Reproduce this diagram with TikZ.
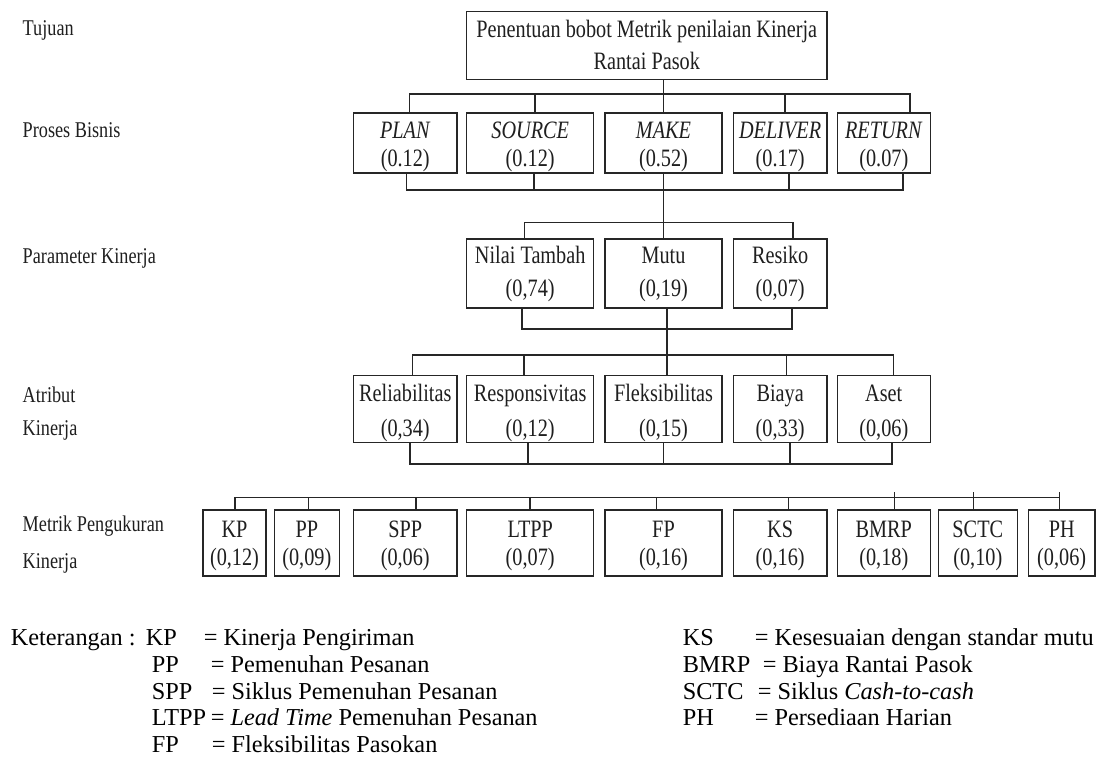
\documentclass[tikz,border=0pt]{standalone}
\usepackage{fontspec}
\setmainfont{Liberation Serif}
\newfontfamily\narrowserif[FakeStretch=0.81]{Liberation Serif}

\begin{document}
\begin{tikzpicture}[x=1pt,y=-1pt,
  line width=1.5pt, line join=miter, color=black!85,
  % the text box is measured from the baseline of its last line
  box/.style={draw=black!85, rectangle, inner sep=0pt, align=center, text=black!88,
    text depth=6pt},
  goalbox/.style={box, text height=53.6pt, font=\narrowserif\fontsize{25}{32}\selectfont},
  lvlone/.style={box, minimum height=60pt, text height=53.4pt,
    font=\narrowserif\fontsize{25}{28.4}\selectfont},
  lvltwo/.style={box, minimum height=69pt, text height=53pt,
    font=\narrowserif\fontsize{25}{33}\selectfont},
  lvlthree/.style={box, minimum height=66pt, text height=61.4pt,
    font=\narrowserif\fontsize{25}{35}\selectfont},
  lvlfour/.style={box, minimum height=66pt, text height=50pt,
    font=\narrowserif\fontsize{25}{27.7}\selectfont},
  rowlabel/.style={anchor=base west, inner sep=0pt, text=black!88,
    font=\narrowserif\fontsize{22.5}{27}\selectfont},
  legend/.style={anchor=base west, inner sep=0pt, text=black,
    font=\fontsize{24.3}{26.7}\selectfont}
]
\fill[white] (0,0) rectangle (1098,759);
\useasboundingbox (0,0) rectangle (1098,759);

% ---- level labels on the left
\node[rowlabel] (lab0)  at (22,36)  {Tujuan};
\node[rowlabel] (lab1)  at (22,138) {Proses Bisnis};
\node[rowlabel] (lab2)  at (22,264) {Parameter Kinerja};
\node[rowlabel] (lab3a) at (22,402) {Atribut};
\node[rowlabel] (lab3b) at (22,435) {Kinerja};
\node[rowlabel] (lab4a) at (22,531) {Metrik Pengukuran};
\node[rowlabel] (lab4b) at (22,568) {Kinerja};

% ---- goal
\node[goalbox, minimum width=360.1pt, minimum height=68pt] (goal) at (646.75,45.5)
  {Penentuan bobot Metrik penilaian Kinerja\\Rantai Pasok};

% ---- business processes
\node[lvlone, minimum width=103.1pt] (plan) at (405.25,143) {\textit{PLAN}\\(0.12)};
\node[lvlone, minimum width=127pt]   (src)  at (530.2,143)  {\textit{SOURCE}\\(0.12)};
\node[lvlone, minimum width=117pt]   (make) at (663.5,143)  {\textit{MAKE}\\(0.52)};
\node[lvlone, minimum width=93.3pt]  (del)  at (780.15,143) {\textit{DELIVER}\\(0.17)};
\node[lvlone, minimum width=93pt]    (ret)  at (883.8,143)  {\textit{RETURN}\\(0.07)};

% ---- performance parameters
\node[lvltwo, minimum width=127pt]  (nt)   at (530.2,273.5)  {Nilai Tambah\\(0,74)};
\node[lvltwo, minimum width=117pt]  (mutu) at (663.5,273.5)  {Mutu\\(0,19)};
\node[lvltwo, minimum width=93.3pt] (res)  at (780.15,273.5) {Resiko\\(0,07)};

% ---- performance attributes
\node[lvlthree, minimum width=103.1pt] (rel)  at (405.25,409) {Reliabilitas\\(0,34)};
\node[lvlthree, minimum width=127pt]   (resp) at (530.2,409)  {Responsivitas\\(0,12)};
\node[lvlthree, minimum width=117pt]   (flex) at (663.5,409)  {Fleksibilitas\\(0,15)};
\node[lvlthree, minimum width=93.3pt]  (cost) at (780.15,409) {Biaya\\(0,33)};
\node[lvlthree, minimum width=93pt]    (aset) at (883.8,409)  {Aset\\(0,06)};

% ---- performance metrics
\node[lvlfour, minimum width=63pt]    (kp)   at (234.5,543)  {KP\\(0,12)};
\node[lvlfour, minimum width=65pt]    (pp)   at (306.8,543)  {PP\\(0,09)};
\node[lvlfour, minimum width=103.1pt] (spp)  at (405.25,543) {SPP\\(0,06)};
\node[lvlfour, minimum width=127pt]   (ltpp) at (530.2,543)  {LTPP\\(0,07)};
\node[lvlfour, minimum width=117pt]   (fp)   at (663.5,543)  {FP\\(0,16)};
\node[lvlfour, minimum width=93.3pt]  (ks)   at (780.15,543) {KS\\(0,16)};
\node[lvlfour, minimum width=93pt]    (bmrp) at (883.8,543)  {BMRP\\(0,18)};
\node[lvlfour, minimum width=79pt]    (sctc) at (977.8,543)  {SCTC\\(0,10)};
\node[lvlfour, minimum width=66.7pt]  (ph)   at (1061.7,543) {PH\\(0,06)};

% ---- goal to business processes
\draw (goal.south -| make.north) -- (make.north);
\draw ([xshift=4pt]plan.north) -- ++(0,-18) -| ([xshift=26pt]ret.north);
\draw ([xshift=5pt]src.north) -- ++(0,-18);
\draw ([xshift=5pt]del.north) -- ++(0,-18);

% ---- business processes to parameters
\draw ([xshift=1pt]plan.south) -- ++(0,16.3) -| ([xshift=19pt]ret.south);
\draw ([xshift=4pt]src.south) -- ++(0,16.3);
\draw ([xshift=9pt]del.south) -- ++(0,16.3);
\draw (make.south) -- (mutu.north);
\draw ([xshift=-5.6pt]nt.north) -- ++(0,-15.7) -| ([xshift=13pt]res.north);

% ---- parameters to attributes
\draw ([xshift=-8.4pt]nt.south) -- ++(0,20.3) -| ([xshift=11.8pt]res.south);
\draw ([xshift=3.5pt]mutu.south) -- ([xshift=3.5pt]flex.north);
\draw ([xshift=7pt]rel.north) -- ++(0,-19.3) -| ([xshift=9.8pt]aset.north);
\draw ([xshift=-6.3pt]resp.north) -- ++(0,-19.3);
\draw ([xshift=6.5pt]cost.north) -- ++(0,-19.3);

% ---- attributes bottom bus
\draw ([xshift=4.5pt]rel.south) -- ++(0,20.7) -| ([xshift=8pt]aset.south);
\draw ([xshift=-2.2pt]resp.south) -- ++(0,20.7);
\draw (flex.south) -- ++(0,20.7);
\draw ([xshift=9.9pt]cost.south) -- ++(0,20.7);

% ---- metrics top bus
\draw ([xshift=0.5pt]kp.north) -- ++(0,-11.7) -| ([xshift=-2.4pt]ph.north);
\draw ([xshift=1.5pt]pp.north) -- ++(0,-11.7);
\draw ([xshift=10.5pt]spp.north) -- ++(0,-11.7);
\draw ([xshift=-0.4pt]ltpp.north) -- ++(0,-11.7);
\draw ([xshift=-6.9pt]fp.north) -- ++(0,-11.7);
\draw ([xshift=8.5pt]ks.north) -- ++(0,-11.7);
\draw ([xshift=10.5pt]bmrp.north) -- ++(0,-17);
\draw ([xshift=-4.5pt]sctc.north) -- ++(0,-17);
\draw ([xshift=-2.4pt]ph.north) -- ++(0,-17);

% ---- legend
\node[legend] (ket)  at (10,645)  {Keterangan :};
\node[legend] (akp)  at (145,645) {KP};
\node[legend] (dkp)  at (203,645) {= Kinerja Pengiriman};
\node[legend] (app)  at (151,672) {PP};
\node[legend] (dpp)  at (210,672) {= Pemenuhan Pesanan};
\node[legend] (aspp) at (151,699) {SPP};
\node[legend] (dspp) at (211,699) {= Siklus Pemenuhan Pesanan};
\node[legend] (altp) at (151,725) {LTPP};
\node[legend] (dltp) at (210,725) {= \textit{Lead Time} Pemenuhan Pesanan};
\node[legend] (afp)  at (151,752) {FP};
\node[legend] (dfp)  at (211,752) {= Fleksibilitas Pasokan};

\node[legend] (aks)  at (682,645) {KS};
\node[legend] (dks)  at (754,645) {= Kesesuaian dengan standar mutu};
\node[legend] (abm)  at (682,672) {BMRP};
\node[legend] (dbm)  at (762,672) {= Biaya Rantai Pasok};
\node[legend] (asc)  at (682,699) {SCTC};
\node[legend] (dsc)  at (757,699) {= Siklus \textit{Cash-to-cash}};
\node[legend] (aph)  at (682,725) {PH};
\node[legend] (dph)  at (754,725) {= Persediaan Harian};
\end{tikzpicture}
\end{document}
